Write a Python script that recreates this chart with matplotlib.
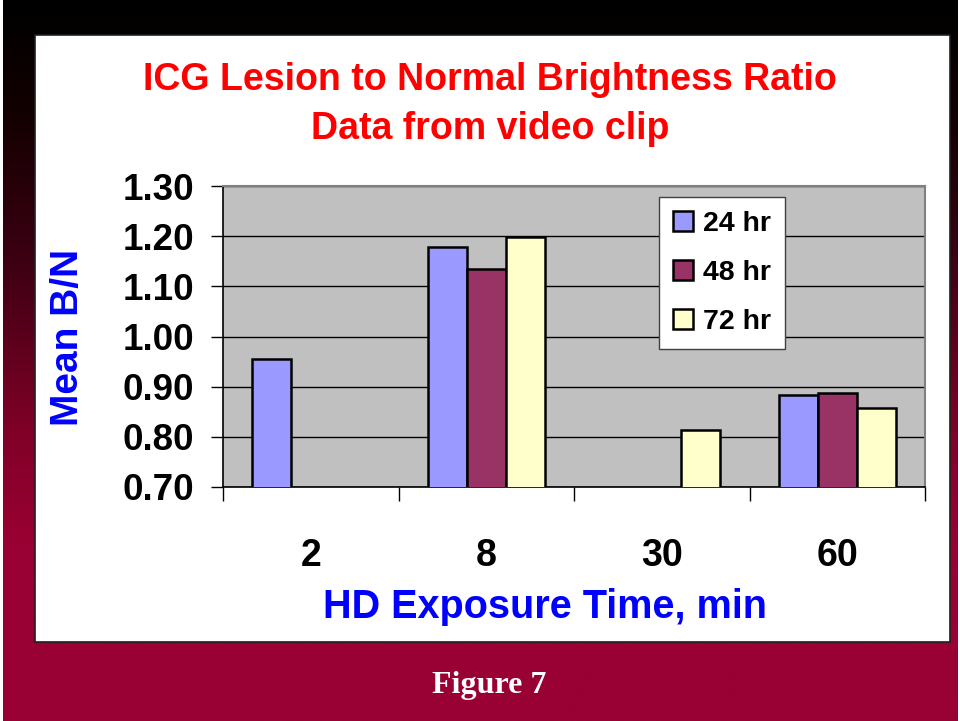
import numpy as np
import matplotlib
matplotlib.use('Agg')
import matplotlib.pyplot as plt
from matplotlib.patches import Rectangle
from matplotlib.colors import LinearSegmentedColormap

# data
categories = ['2', '8', '30', '60']
series_names = ['24 hr', '48 hr', '72 hr']
hr24 = [0.955, 1.178, np.nan, 0.883]
hr48 = [np.nan, 1.134, np.nan, 0.888]
hr72 = [np.nan, 1.198, 0.814, 0.858]
colors = ['#9999FF', '#993366', '#FFFFCC']

plt.rcParams['font.family'] = ['Liberation Sans', 'DejaVu Sans']
plt.rcParams['font.weight'] = 'bold'

fig = plt.figure(figsize=(9.6, 7.21), dpi=100, facecolor='white')

# slide background: black at top fading to crimson
bg = fig.add_axes([3/960, 0, 954/960, 1], zorder=-10)
cmap = LinearSegmentedColormap.from_list('slide', [(0, '#000000'), (0.15, '#120000'),
                                                   (0.35, '#3a0012'), (0.6, '#800028'),
                                                   (0.75, '#990033'), (1, '#990033')])
grad = np.linspace(0, 1, 256).reshape(-1, 1)
bg.imshow(grad, aspect='auto', cmap=cmap, extent=[0, 1, 0, 1], origin='upper')
bg.axis('off')

# white panel with dark border
fig.patches.append(Rectangle((35/960, 1 - 642/721), 915/960, 607/721, transform=fig.transFigure,
                             facecolor='white', edgecolor='#202020', lw=1.2, zorder=-5))

ax = fig.add_axes([223/960, 1 - 487/721, 702/960, 301/721])
ax.set_facecolor('#C0C0C0')

x = np.arange(len(categories))
w = 0.222
for i, (vals, name, c) in enumerate(zip([hr24, hr48, hr72], series_names, colors)):
    ax.bar(x + (i - 1) * w, vals, width=w, color=c, edgecolor='black', lw=1.8,
           label=name, zorder=3)

ax.set_ylim(0.7, 1.3)
ax.set_xlim(-0.5, 3.5)
ax.set_yticks(np.arange(0.7, 1.31, 0.1))
ax.set_yticklabels(['%.2f' % v for v in np.arange(0.7, 1.31, 0.1)], fontsize=26.5, fontweight='bold')
ax.yaxis.grid(True, color='black', lw=1.0, zorder=1)
ax.set_axisbelow(True)
ax.tick_params(axis='y', length=9, width=1, pad=12, color='black')

ax.set_xticks(x)
ax.set_xticklabels(categories, fontsize=27, fontweight='bold')
ax.tick_params(axis='x', which='major', length=0, pad=37)
ax.set_xticks(np.arange(-0.5, 3.6, 1), minor=True)
ax.tick_params(axis='x', which='minor', length=10, width=1, color='black')

for s in ['top', 'right']:
    ax.spines[s].set_color('#808080')
    ax.spines[s].set_linewidth(1.5)
for s in ['left', 'bottom']:
    ax.spines[s].set_color('black')
    ax.spines[s].set_linewidth(1.2)

leg = ax.legend(loc='upper left', bbox_to_anchor=(0.621, 0.963),
                prop={'weight': 'bold', 'size': 20.5}, frameon=True, fancybox=False,
                handlelength=0.7, handleheight=0.7, handletextpad=0.35,
                labelspacing=0.8, borderpad=0.5, borderaxespad=0)
leg.get_frame().set_edgecolor('#404040')
leg.get_frame().set_linewidth(1)
leg.get_frame().set_alpha(1)
for h in leg.legend_handles:
    h.set_linewidth(1.8)

fig.text(490/960, 1 - 80/721, 'ICG Lesion to Normal Brightness Ratio', color='#FF0000',
         fontsize=27, fontweight='bold', ha='center', va='center')
fig.text(490/960, 1 - 129/721, 'Data from video clip', color='#FF0000',
         fontsize=27, fontweight='bold', ha='center', va='center')
fig.text(68/960, 1 - 337/721, 'Mean B/N', color='#0000FF', fontsize=28, fontweight='bold',
         rotation=90, ha='center', va='center')
fig.text(545/960, 1 - 607/721, 'HD Exposure Time, min', color='#0000FF', fontsize=28.5,
         fontweight='bold', ha='center', va='center')
fig.text(489/960, 1 - 686/721, 'Figure 7', color='white', fontsize=23, fontweight='bold',
         family=['Liberation Serif', 'DejaVu Serif'], ha='center', va='center')

fig.savefig('out.png', dpi=100, facecolor=fig.get_facecolor())
